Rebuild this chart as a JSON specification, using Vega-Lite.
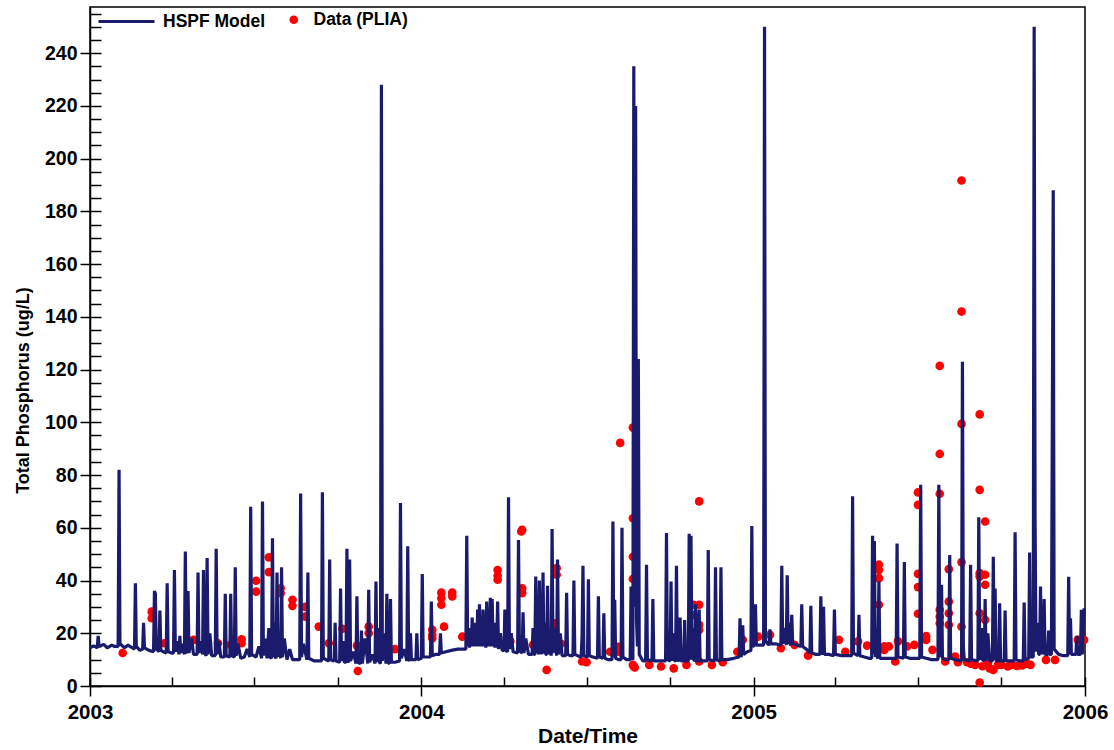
{
"$schema": "https://vega.github.io/schema/vega-lite/v6.json",
"width": 995, "height": 679,
"autosize": {"type": "none"},
"padding": {"left": 90, "top": 7, "right": 29, "bottom": 64},
"background": "white",
"config": {"view": {"stroke": "black", "strokeWidth": 1.5}, "font": "Liberation Sans",
  "axis": {"domainColor": "black", "tickColor": "black", "tickWidth": 1.5, "domainWidth": 1.5, "labelColor": "black", "titleColor": "black", "grid": false}},
"datasets": {
"model": [
{"date":"2003-01-01","tp":14.5},{"date":"2003-01-05","tp":15.2},{"date":"2003-01-09","tp":14.5},{"date":"2003-01-10","tp":19},{"date":"2003-01-11","tp":15},{"date":"2003-01-16","tp":15.8},{"date":"2003-01-20","tp":14.5},{"date":"2003-01-25","tp":15.5},{"date":"2003-01-28","tp":15},
{"date":"2003-02-01","tp":15},{"date":"2003-02-02","tp":82},{"date":"2003-02-03","tp":16},{"date":"2003-02-08","tp":14.5},{"date":"2003-02-12","tp":15.5},{"date":"2003-02-14","tp":15},{"date":"2003-02-19","tp":14},{"date":"2003-02-20","tp":39},{"date":"2003-02-21","tp":15},{"date":"2003-02-25","tp":13.5},{"date":"2003-02-28","tp":14},
{"date":"2003-03-01","tp":24},{"date":"2003-03-02","tp":14.5},{"date":"2003-03-07","tp":13.5},{"date":"2003-03-12","tp":13},{"date":"2003-03-13","tp":36},{"date":"2003-03-14","tp":35},{"date":"2003-03-15","tp":14},{"date":"2003-03-18","tp":13},{"date":"2003-03-19","tp":28.6},{"date":"2003-03-20","tp":13.5},{"date":"2003-03-23","tp":13},{"date":"2003-03-26","tp":12.5},{"date":"2003-03-27","tp":39},{"date":"2003-03-28","tp":13},
{"date":"2003-04-01","tp":12.5},{"date":"2003-04-03","tp":12.5},{"date":"2003-04-04","tp":44},{"date":"2003-04-05","tp":13},{"date":"2003-04-07","tp":17},{"date":"2003-04-09","tp":12},{"date":"2003-04-10","tp":19},{"date":"2003-04-11","tp":12.5},{"date":"2003-04-13","tp":16},{"date":"2003-04-15","tp":12},{"date":"2003-04-16","tp":51},{"date":"2003-04-17","tp":13},{"date":"2003-04-18","tp":12.5},{"date":"2003-04-19","tp":36},{"date":"2003-04-20","tp":12.5},{"date":"2003-04-23","tp":18},{"date":"2003-04-25","tp":12},{"date":"2003-04-29","tp":12},{"date":"2003-04-30","tp":43},
{"date":"2003-05-01","tp":12.5},{"date":"2003-05-03","tp":17},{"date":"2003-05-05","tp":12},{"date":"2003-05-06","tp":44},{"date":"2003-05-07","tp":12.5},{"date":"2003-05-09","tp":11.5},{"date":"2003-05-10","tp":48.5},{"date":"2003-05-11","tp":12},{"date":"2003-05-13","tp":20},{"date":"2003-05-15","tp":11.5},{"date":"2003-05-19","tp":11.5},{"date":"2003-05-20","tp":52},{"date":"2003-05-21","tp":12},{"date":"2003-05-23","tp":17},{"date":"2003-05-25","tp":11},{"date":"2003-05-29","tp":11},{"date":"2003-05-30","tp":35},{"date":"2003-05-31","tp":11.5},
{"date":"2003-06-04","tp":11},{"date":"2003-06-05","tp":35},{"date":"2003-06-06","tp":11.5},{"date":"2003-06-09","tp":11},{"date":"2003-06-10","tp":45},{"date":"2003-06-11","tp":11.5},{"date":"2003-06-13","tp":16},{"date":"2003-06-16","tp":10.5},{"date":"2003-06-20","tp":11},{"date":"2003-06-23","tp":14},{"date":"2003-06-26","tp":11},{"date":"2003-06-27","tp":68},{"date":"2003-06-28","tp":12},
{"date":"2003-07-03","tp":11},{"date":"2003-07-06","tp":15},{"date":"2003-07-09","tp":10.5},{"date":"2003-07-10","tp":70},{"date":"2003-07-11","tp":11.5},{"date":"2003-07-13","tp":18},{"date":"2003-07-15","tp":10.5},{"date":"2003-07-17","tp":22},{"date":"2003-07-18","tp":11},{"date":"2003-07-20","tp":10.5},{"date":"2003-07-21","tp":56},{"date":"2003-07-22","tp":11},{"date":"2003-07-23","tp":24},{"date":"2003-07-24","tp":11},{"date":"2003-07-25","tp":10.5},{"date":"2003-07-26","tp":43},{"date":"2003-07-27","tp":11},{"date":"2003-07-28","tp":20},{"date":"2003-07-30","tp":10.5},{"date":"2003-07-31","tp":45},
{"date":"2003-08-01","tp":11},{"date":"2003-08-03","tp":18},{"date":"2003-08-06","tp":10},{"date":"2003-08-09","tp":14},{"date":"2003-08-12","tp":10},{"date":"2003-08-20","tp":10},{"date":"2003-08-21","tp":73},{"date":"2003-08-22","tp":11},{"date":"2003-08-24","tp":16},{"date":"2003-08-28","tp":10},{"date":"2003-08-29","tp":43},{"date":"2003-08-30","tp":10.5},
{"date":"2003-09-05","tp":9.5},{"date":"2003-09-13","tp":9.5},{"date":"2003-09-14","tp":73.5},{"date":"2003-09-15","tp":10.5},{"date":"2003-09-21","tp":9.5},{"date":"2003-09-22","tp":48},{"date":"2003-09-23","tp":10},{"date":"2003-09-27","tp":9.5},{"date":"2003-09-28","tp":24},{"date":"2003-09-29","tp":9.5},
{"date":"2003-10-03","tp":9},{"date":"2003-10-04","tp":37},{"date":"2003-10-05","tp":9.5},{"date":"2003-10-07","tp":17},{"date":"2003-10-08","tp":9},{"date":"2003-10-10","tp":9},{"date":"2003-10-11","tp":52},{"date":"2003-10-12","tp":9.5},{"date":"2003-10-13","tp":9},{"date":"2003-10-14","tp":48},{"date":"2003-10-15","tp":9.5},{"date":"2003-10-18","tp":13},{"date":"2003-10-21","tp":8.5},{"date":"2003-10-22","tp":34},{"date":"2003-10-23","tp":9},{"date":"2003-10-26","tp":8.5},{"date":"2003-10-27","tp":21},{"date":"2003-10-28","tp":8.5},{"date":"2003-10-31","tp":18},
{"date":"2003-11-03","tp":8.5},{"date":"2003-11-04","tp":36.5},{"date":"2003-11-05","tp":9},{"date":"2003-11-08","tp":12},{"date":"2003-11-11","tp":8.5},{"date":"2003-11-12","tp":39.6},{"date":"2003-11-13","tp":9},{"date":"2003-11-15","tp":22},{"date":"2003-11-16","tp":9},{"date":"2003-11-17","tp":8.5},{"date":"2003-11-18","tp":228},{"date":"2003-11-19","tp":9.5},{"date":"2003-11-21","tp":20},{"date":"2003-11-23","tp":8.5},{"date":"2003-11-24","tp":35},{"date":"2003-11-25","tp":9},{"date":"2003-11-27","tp":8.5},{"date":"2003-11-28","tp":33},{"date":"2003-11-29","tp":9},
{"date":"2003-12-03","tp":9},{"date":"2003-12-08","tp":9.5},{"date":"2003-12-09","tp":69.4},{"date":"2003-12-10","tp":10.5},{"date":"2003-12-13","tp":14},{"date":"2003-12-16","tp":9.5},{"date":"2003-12-17","tp":53},{"date":"2003-12-18","tp":10},{"date":"2003-12-19","tp":9.5},{"date":"2003-12-20","tp":20},{"date":"2003-12-21","tp":10},{"date":"2003-12-26","tp":10},{"date":"2003-12-27","tp":20},{"date":"2003-12-28","tp":10},
{"date":"2004-01-01","tp":10.5},{"date":"2004-01-02","tp":42.5},{"date":"2004-01-03","tp":11},{"date":"2004-01-07","tp":11},{"date":"2004-01-11","tp":11},{"date":"2004-01-12","tp":32},{"date":"2004-01-13","tp":11.5},{"date":"2004-01-17","tp":12},{"date":"2004-01-21","tp":12},{"date":"2004-01-22","tp":20},{"date":"2004-01-23","tp":12.5},{"date":"2004-01-28","tp":13},
{"date":"2004-02-03","tp":13.5},{"date":"2004-02-10","tp":14},{"date":"2004-02-15","tp":14},{"date":"2004-02-19","tp":14},{"date":"2004-02-20","tp":57},{"date":"2004-02-21","tp":15},{"date":"2004-02-22","tp":21},{"date":"2004-02-23","tp":14.5},{"date":"2004-02-24","tp":22},{"date":"2004-02-25","tp":15},{"date":"2004-02-26","tp":26},{"date":"2004-02-27","tp":15},{"date":"2004-02-28","tp":24},{"date":"2004-02-29","tp":15},
{"date":"2004-03-01","tp":22},{"date":"2004-03-02","tp":15},{"date":"2004-03-03","tp":29},{"date":"2004-03-04","tp":15},{"date":"2004-03-05","tp":31},{"date":"2004-03-06","tp":15},{"date":"2004-03-07","tp":25},{"date":"2004-03-08","tp":15},{"date":"2004-03-09","tp":29},{"date":"2004-03-10","tp":15},{"date":"2004-03-11","tp":23},{"date":"2004-03-12","tp":14.5},{"date":"2004-03-13","tp":32},{"date":"2004-03-14","tp":15},{"date":"2004-03-15","tp":27},{"date":"2004-03-16","tp":15},{"date":"2004-03-17","tp":33.5},{"date":"2004-03-18","tp":15},{"date":"2004-03-19","tp":33},{"date":"2004-03-20","tp":15},{"date":"2004-03-21","tp":22},{"date":"2004-03-22","tp":14.5},{"date":"2004-03-23","tp":24},{"date":"2004-03-24","tp":14.5},{"date":"2004-03-25","tp":32},{"date":"2004-03-26","tp":14},{"date":"2004-03-28","tp":20},{"date":"2004-03-30","tp":13.5},
{"date":"2004-04-01","tp":13.5},{"date":"2004-04-02","tp":29},{"date":"2004-04-03","tp":13.5},{"date":"2004-04-05","tp":13},{"date":"2004-04-06","tp":71.6},{"date":"2004-04-07","tp":14},{"date":"2004-04-09","tp":20},{"date":"2004-04-11","tp":13},{"date":"2004-04-16","tp":12.5},{"date":"2004-04-17","tp":55.4},{"date":"2004-04-18","tp":13.5},{"date":"2004-04-21","tp":12.5},{"date":"2004-04-22","tp":28},{"date":"2004-04-23","tp":12.5},{"date":"2004-04-25","tp":18},{"date":"2004-04-28","tp":12},
{"date":"2004-05-02","tp":12},{"date":"2004-05-03","tp":22},{"date":"2004-05-04","tp":12},{"date":"2004-05-05","tp":12},{"date":"2004-05-06","tp":41.5},{"date":"2004-05-07","tp":12.5},{"date":"2004-05-08","tp":24},{"date":"2004-05-09","tp":12},{"date":"2004-05-10","tp":40},{"date":"2004-05-11","tp":12},{"date":"2004-05-12","tp":22},{"date":"2004-05-13","tp":12},{"date":"2004-05-14","tp":43},{"date":"2004-05-15","tp":12.5},{"date":"2004-05-16","tp":24},{"date":"2004-05-17","tp":12},{"date":"2004-05-18","tp":12},{"date":"2004-05-19","tp":38},{"date":"2004-05-20","tp":12},{"date":"2004-05-21","tp":21},{"date":"2004-05-23","tp":11.5},{"date":"2004-05-24","tp":59.5},{"date":"2004-05-25","tp":12.5},{"date":"2004-05-27","tp":22},{"date":"2004-05-29","tp":11.5},{"date":"2004-05-30","tp":48},{"date":"2004-05-31","tp":12},
{"date":"2004-06-02","tp":20},{"date":"2004-06-04","tp":11.5},{"date":"2004-06-08","tp":11.5},{"date":"2004-06-09","tp":35.4},{"date":"2004-06-10","tp":12},{"date":"2004-06-13","tp":11.5},{"date":"2004-06-16","tp":11.5},{"date":"2004-06-17","tp":40},{"date":"2004-06-18","tp":12},{"date":"2004-06-21","tp":11.5},{"date":"2004-06-25","tp":11},{"date":"2004-06-26","tp":19},{"date":"2004-06-27","tp":45.6},{"date":"2004-06-28","tp":11.5},
{"date":"2004-07-02","tp":11},{"date":"2004-07-03","tp":40.5},{"date":"2004-07-04","tp":11.5},{"date":"2004-07-08","tp":11},{"date":"2004-07-13","tp":10.5},{"date":"2004-07-14","tp":34},{"date":"2004-07-15","tp":11},{"date":"2004-07-19","tp":10.5},{"date":"2004-07-20","tp":27.6},{"date":"2004-07-21","tp":10.5},{"date":"2004-07-25","tp":10},{"date":"2004-07-29","tp":10},{"date":"2004-07-30","tp":62.4},{"date":"2004-07-31","tp":11},
{"date":"2004-08-01","tp":32.7},{"date":"2004-08-02","tp":10.5},{"date":"2004-08-05","tp":10},{"date":"2004-08-08","tp":10},{"date":"2004-08-09","tp":60},{"date":"2004-08-10","tp":11},{"date":"2004-08-14","tp":10},{"date":"2004-08-18","tp":10},{"date":"2004-08-19","tp":37.7},{"date":"2004-08-20","tp":10.5},{"date":"2004-08-21","tp":10},{"date":"2004-08-22","tp":235},{"date":"2004-08-23","tp":30},{"date":"2004-08-24","tp":220},{"date":"2004-08-25","tp":25},{"date":"2004-08-26","tp":15},{"date":"2004-08-27","tp":124},{"date":"2004-08-28","tp":12},
{"date":"2004-09-01","tp":9.5},{"date":"2004-09-04","tp":9.5},{"date":"2004-09-05","tp":46},{"date":"2004-09-06","tp":10},{"date":"2004-09-11","tp":9.5},{"date":"2004-09-12","tp":33},{"date":"2004-09-13","tp":9.5},{"date":"2004-09-18","tp":9.5},{"date":"2004-09-26","tp":9.5},{"date":"2004-09-27","tp":58},{"date":"2004-09-28","tp":10},
{"date":"2004-10-01","tp":9.5},{"date":"2004-10-02","tp":39.6},{"date":"2004-10-03","tp":9.5},{"date":"2004-10-05","tp":20},{"date":"2004-10-06","tp":9.5},{"date":"2004-10-07","tp":9.5},{"date":"2004-10-08","tp":45.6},{"date":"2004-10-09","tp":10},{"date":"2004-10-11","tp":9.5},{"date":"2004-10-12","tp":26},{"date":"2004-10-13","tp":9.5},{"date":"2004-10-16","tp":9.5},{"date":"2004-10-17","tp":25},{"date":"2004-10-18","tp":9.5},{"date":"2004-10-21","tp":9.5},{"date":"2004-10-22","tp":57.7},{"date":"2004-10-23","tp":10},{"date":"2004-10-24","tp":57},{"date":"2004-10-25","tp":10},{"date":"2004-10-26","tp":22},{"date":"2004-10-27","tp":10},{"date":"2004-10-28","tp":9.5},{"date":"2004-10-29","tp":31},{"date":"2004-10-30","tp":9.5},
{"date":"2004-11-01","tp":9.5},{"date":"2004-11-02","tp":29},{"date":"2004-11-03","tp":9.5},{"date":"2004-11-07","tp":9.5},{"date":"2004-11-11","tp":9.5},{"date":"2004-11-12","tp":51.6},{"date":"2004-11-13","tp":10},{"date":"2004-11-19","tp":9.5},{"date":"2004-11-20","tp":45},{"date":"2004-11-21","tp":10},{"date":"2004-11-25","tp":9.5},{"date":"2004-11-26","tp":45},{"date":"2004-11-27","tp":10},
{"date":"2004-12-03","tp":10},{"date":"2004-12-10","tp":10.5},{"date":"2004-12-16","tp":11},{"date":"2004-12-17","tp":25.7},{"date":"2004-12-18","tp":11},{"date":"2004-12-19","tp":12},{"date":"2004-12-20","tp":23},{"date":"2004-12-21","tp":12},{"date":"2004-12-25","tp":13},{"date":"2004-12-29","tp":13.5},{"date":"2004-12-30","tp":60.7},{"date":"2004-12-31","tp":15},
{"date":"2005-01-02","tp":15.5},{"date":"2005-01-03","tp":31},{"date":"2005-01-04","tp":15.5},{"date":"2005-01-08","tp":15.5},{"date":"2005-01-12","tp":15.5},{"date":"2005-01-13","tp":250},{"date":"2005-01-14","tp":17},{"date":"2005-01-18","tp":15.5},{"date":"2005-01-19","tp":21.5},{"date":"2005-01-20","tp":16},{"date":"2005-01-25","tp":16},{"date":"2005-01-31","tp":15.5},
{"date":"2005-02-01","tp":45.6},{"date":"2005-02-02","tp":16},{"date":"2005-02-04","tp":22},{"date":"2005-02-06","tp":15.5},{"date":"2005-02-07","tp":42},{"date":"2005-02-08","tp":16},{"date":"2005-02-09","tp":24},{"date":"2005-02-10","tp":16},{"date":"2005-02-11","tp":15.5},{"date":"2005-02-12","tp":27},{"date":"2005-02-13","tp":16},{"date":"2005-02-18","tp":15.5},{"date":"2005-02-22","tp":15},{"date":"2005-02-23","tp":31},{"date":"2005-02-24","tp":15},{"date":"2005-02-28","tp":14},
{"date":"2005-03-04","tp":12.5},{"date":"2005-03-05","tp":30.4},{"date":"2005-03-06","tp":12.5},{"date":"2005-03-10","tp":12},{"date":"2005-03-15","tp":12},{"date":"2005-03-16","tp":34},{"date":"2005-03-17","tp":12.5},{"date":"2005-03-18","tp":12},{"date":"2005-03-19","tp":30},{"date":"2005-03-20","tp":12},{"date":"2005-03-25","tp":12},{"date":"2005-03-30","tp":11.5},{"date":"2005-03-31","tp":29},
{"date":"2005-04-01","tp":12},{"date":"2005-04-08","tp":11.5},{"date":"2005-04-14","tp":11.5},{"date":"2005-04-19","tp":11.5},{"date":"2005-04-20","tp":72},{"date":"2005-04-21","tp":12.5},{"date":"2005-04-26","tp":11.5},{"date":"2005-04-27","tp":27},{"date":"2005-04-28","tp":11.5},
{"date":"2005-05-03","tp":11},{"date":"2005-05-08","tp":10.5},{"date":"2005-05-11","tp":10.5},{"date":"2005-05-12","tp":57},{"date":"2005-05-13","tp":12},{"date":"2005-05-14","tp":55},{"date":"2005-05-15","tp":11},{"date":"2005-05-16","tp":22},{"date":"2005-05-17","tp":11},{"date":"2005-05-18","tp":10.5},{"date":"2005-05-19","tp":39.6},{"date":"2005-05-20","tp":10.5},{"date":"2005-05-26","tp":10.5},
{"date":"2005-06-01","tp":10.5},{"date":"2005-06-07","tp":10.5},{"date":"2005-06-08","tp":54},{"date":"2005-06-09","tp":11},{"date":"2005-06-15","tp":10.5},{"date":"2005-06-16","tp":47},{"date":"2005-06-17","tp":11},{"date":"2005-06-22","tp":10.5},{"date":"2005-06-28","tp":10.5},
{"date":"2005-07-03","tp":10.5},{"date":"2005-07-04","tp":76.3},{"date":"2005-07-05","tp":11},{"date":"2005-07-10","tp":10.5},{"date":"2005-07-16","tp":10},{"date":"2005-07-23","tp":10},{"date":"2005-07-24","tp":76.3},{"date":"2005-07-25","tp":12},{"date":"2005-07-26","tp":11},{"date":"2005-07-27","tp":38.4},{"date":"2005-07-28","tp":10.5},{"date":"2005-07-31","tp":10},
{"date":"2005-08-04","tp":10},{"date":"2005-08-05","tp":49.7},{"date":"2005-08-06","tp":10.5},{"date":"2005-08-11","tp":10},{"date":"2005-08-18","tp":9.5},{"date":"2005-08-19","tp":123},{"date":"2005-08-20","tp":15},{"date":"2005-08-21","tp":10},{"date":"2005-08-27","tp":9.5},{"date":"2005-08-28","tp":46},{"date":"2005-08-29","tp":10},
{"date":"2005-09-05","tp":9.5},{"date":"2005-09-06","tp":64},{"date":"2005-09-07","tp":12},{"date":"2005-09-08","tp":10},{"date":"2005-09-09","tp":22},{"date":"2005-09-10","tp":10},{"date":"2005-09-12","tp":9.5},{"date":"2005-09-13","tp":33},{"date":"2005-09-14","tp":9.5},{"date":"2005-09-16","tp":20},{"date":"2005-09-18","tp":9.5},{"date":"2005-09-21","tp":9.5},{"date":"2005-09-22","tp":49},{"date":"2005-09-23","tp":10},{"date":"2005-09-24","tp":37},{"date":"2005-09-25","tp":9.5},{"date":"2005-09-28","tp":9.5},{"date":"2005-09-29","tp":31.4},{"date":"2005-09-30","tp":9.5},
{"date":"2005-10-04","tp":9.5},{"date":"2005-10-05","tp":28.6},{"date":"2005-10-06","tp":9.5},{"date":"2005-10-10","tp":9.5},{"date":"2005-10-15","tp":9.5},{"date":"2005-10-16","tp":58.3},{"date":"2005-10-17","tp":10},{"date":"2005-10-21","tp":9.5},{"date":"2005-10-25","tp":9.5},{"date":"2005-10-26","tp":31.7},{"date":"2005-10-27","tp":10},{"date":"2005-10-31","tp":10.5},
{"date":"2005-11-01","tp":50.6},{"date":"2005-11-02","tp":11},{"date":"2005-11-05","tp":11},{"date":"2005-11-06","tp":250},{"date":"2005-11-07","tp":64},{"date":"2005-11-08","tp":13},{"date":"2005-11-10","tp":24},{"date":"2005-11-11","tp":12},{"date":"2005-11-12","tp":12},{"date":"2005-11-13","tp":37.7},{"date":"2005-11-14","tp":12},{"date":"2005-11-15","tp":26},{"date":"2005-11-16","tp":12},{"date":"2005-11-17","tp":33},{"date":"2005-11-18","tp":12},{"date":"2005-11-21","tp":12},{"date":"2005-11-22","tp":21},{"date":"2005-11-23","tp":12},{"date":"2005-11-25","tp":12},{"date":"2005-11-26","tp":100},{"date":"2005-11-27","tp":188},{"date":"2005-11-28","tp":14},
{"date":"2005-12-03","tp":12},{"date":"2005-12-08","tp":11.5},{"date":"2005-12-13","tp":11.5},{"date":"2005-12-14","tp":41.4},{"date":"2005-12-15","tp":12},{"date":"2005-12-16","tp":25.7},{"date":"2005-12-17","tp":12},{"date":"2005-12-22","tp":12},{"date":"2005-12-23","tp":19},{"date":"2005-12-24","tp":12},{"date":"2005-12-27","tp":12},{"date":"2005-12-28","tp":28.9},{"date":"2005-12-29","tp":12},{"date":"2005-12-31","tp":29.5}
],
"obs": [
{"date":"2003-02-06","tp":12.5},{"date":"2003-03-10","tp":28.2},{"date":"2003-03-10","tp":25.7},{"date":"2003-03-24","tp":16.2},{"date":"2003-04-25","tp":17.5},{"date":"2003-05-22","tp":16.2},{"date":"2003-06-05","tp":15.6},{"date":"2003-06-17","tp":17.7},{"date":"2003-06-17","tp":16.2},
{"date":"2003-07-03","tp":39.9},{"date":"2003-07-03","tp":35.8},{"date":"2003-07-17","tp":48.8},{"date":"2003-07-17","tp":43.2},{"date":"2003-07-30","tp":37},{"date":"2003-07-30","tp":35.2},{"date":"2003-08-12","tp":32.7},{"date":"2003-08-12","tp":30.4},{"date":"2003-08-26","tp":30},{"date":"2003-08-26","tp":26.3},
{"date":"2003-09-10","tp":22.5},{"date":"2003-09-21","tp":16.2},{"date":"2003-10-06","tp":21.7},{"date":"2003-10-22","tp":15.3},{"date":"2003-10-23","tp":5.7},{"date":"2003-11-04","tp":22.5},{"date":"2003-11-04","tp":20},{"date":"2003-11-20","tp":18},{"date":"2003-12-03","tp":14},
{"date":"2004-01-13","tp":21.3},{"date":"2004-01-13","tp":19.4},{"date":"2004-01-13","tp":18.1},{"date":"2004-01-23","tp":35.4},{"date":"2004-01-23","tp":33.3},{"date":"2004-01-23","tp":30.8},{"date":"2004-01-26","tp":22.5},{"date":"2004-02-04","tp":35.4},{"date":"2004-02-04","tp":34},{"date":"2004-02-15","tp":18.7},
{"date":"2004-03-25","tp":44},{"date":"2004-03-25","tp":41.8},{"date":"2004-03-25","tp":40.3},{"date":"2004-04-08","tp":16.9},{"date":"2004-04-20","tp":58.6},{"date":"2004-04-21","tp":59.2},{"date":"2004-04-21","tp":37},{"date":"2004-04-21","tp":35.2},{"date":"2004-05-03","tp":15.6},{"date":"2004-05-18","tp":6.1},{"date":"2004-05-27","tp":23.8},{"date":"2004-05-27","tp":20.7},{"date":"2004-05-29","tp":44.7},{"date":"2004-05-29","tp":42.2},{"date":"2004-06-03","tp":16},{"date":"2004-06-26","tp":9.3},
{"date":"2004-07-01","tp":9},{"date":"2004-07-27","tp":13},{"date":"2004-08-05","tp":14.9},{"date":"2004-08-05","tp":13},{"date":"2004-08-07","tp":92.2},{"date":"2004-08-21","tp":98},{"date":"2004-08-21","tp":63.6},{"date":"2004-08-21","tp":49},{"date":"2004-08-21","tp":40.6},{"date":"2004-08-21","tp":8},{"date":"2004-08-22","tp":7.4},{"date":"2004-08-23","tp":7},
{"date":"2004-09-08","tp":8},{"date":"2004-09-21","tp":7.4},{"date":"2004-10-05","tp":6.7},{"date":"2004-10-19","tp":8},{"date":"2004-10-27","tp":30.8},{"date":"2004-10-27","tp":27},{"date":"2004-11-02","tp":70},{"date":"2004-11-02","tp":30.8},{"date":"2004-11-02","tp":23.2},{"date":"2004-11-02","tp":21.3},{"date":"2004-11-02","tp":9.3},{"date":"2004-11-16","tp":8},{"date":"2004-11-28","tp":9},{"date":"2004-12-14","tp":13},{"date":"2004-12-20","tp":17.5},
{"date":"2005-01-06","tp":18.7},{"date":"2005-01-19","tp":19.4},{"date":"2005-01-31","tp":14.3},{"date":"2005-02-15","tp":15.6},{"date":"2005-03-02","tp":11.5},{"date":"2005-04-05","tp":17.5},{"date":"2005-04-12","tp":13},{"date":"2005-04-26","tp":16.9},{"date":"2005-05-06","tp":15.3},
{"date":"2005-05-19","tp":46},{"date":"2005-05-19","tp":44},{"date":"2005-05-19","tp":40.9},{"date":"2005-05-19","tp":30.8},{"date":"2005-05-25","tp":15},{"date":"2005-05-25","tp":13.7},{"date":"2005-05-30","tp":15},{"date":"2005-06-06","tp":9.3},{"date":"2005-06-09","tp":16.9},{"date":"2005-06-19","tp":15},{"date":"2005-06-27","tp":15.6},
{"date":"2005-07-01","tp":73.4},{"date":"2005-07-01","tp":68.7},{"date":"2005-07-01","tp":42.5},{"date":"2005-07-01","tp":37.5},{"date":"2005-07-01","tp":27.4},{"date":"2005-07-10","tp":18.9},{"date":"2005-07-10","tp":17.5},{"date":"2005-07-17","tp":13.7},
{"date":"2005-07-25","tp":121.4},{"date":"2005-07-25","tp":88},{"date":"2005-07-25","tp":72.9},{"date":"2005-07-25","tp":28.9},{"date":"2005-07-25","tp":26.3},{"date":"2005-07-25","tp":23.8},{"date":"2005-07-31","tp":9.3},
{"date":"2005-08-04","tp":44.3},{"date":"2005-08-04","tp":32},{"date":"2005-08-04","tp":27.6},{"date":"2005-08-04","tp":23.2},{"date":"2005-08-11","tp":11.2},{"date":"2005-08-14","tp":9},
{"date":"2005-08-18","tp":191.7},{"date":"2005-08-18","tp":142},{"date":"2005-08-18","tp":99.4},{"date":"2005-08-18","tp":47},{"date":"2005-08-18","tp":22.5},{"date":"2005-08-24","tp":9},{"date":"2005-08-28","tp":8.5},{"date":"2005-09-02","tp":8},
{"date":"2005-09-07","tp":103},{"date":"2005-09-07","tp":74.4},{"date":"2005-09-07","tp":42.8},{"date":"2005-09-07","tp":41.5},{"date":"2005-09-07","tp":27.6},{"date":"2005-09-07","tp":1.3},{"date":"2005-09-10","tp":7.5},
{"date":"2005-09-13","tp":62.4},{"date":"2005-09-13","tp":42.2},{"date":"2005-09-13","tp":38.4},{"date":"2005-09-13","tp":25.1},{"date":"2005-09-16","tp":8.5},{"date":"2005-09-18","tp":6.7},{"date":"2005-09-22","tp":6.1},{"date":"2005-09-27","tp":8},{"date":"2005-10-01","tp":8},
{"date":"2005-10-08","tp":7.4},{"date":"2005-10-12","tp":8},{"date":"2005-10-18","tp":7.6},{"date":"2005-10-24","tp":7.8},{"date":"2005-10-29","tp":8.5},{"date":"2005-11-02","tp":8},{"date":"2005-11-19","tp":9.9},{"date":"2005-11-29","tp":9.9},{"date":"2005-12-24","tp":17.5},{"date":"2005-12-31","tp":17.5}
]
},
"layer": [
{
 "data": {"name": "obs"},
 "mark": {"type": "point", "filled": true, "size": 75, "opacity": 1, "strokeWidth": 0},
 "encoding": {
  "x": {"field": "date", "type": "temporal",
        "scale": {"type": "utc", "nice": false, "domain": [{"year": 2003, "month": 1, "date": 1, "utc": true}, {"year": 2006, "month": 1, "date": 1, "utc": true}]},
        "axis": {"orient": "top", "offset": -679, "labels": false, "domain": false, "title": null, "tickSize": 9,
                 "values": [{"year":2003,"month":1,"date":1,"utc":true},{"year":2003,"month":4,"date":1,"utc":true},{"year":2003,"month":7,"date":1,"utc":true},{"year":2003,"month":10,"date":1,"utc":true},{"year":2004,"month":1,"date":1,"utc":true},{"year":2004,"month":4,"date":1,"utc":true},{"year":2004,"month":7,"date":1,"utc":true},{"year":2004,"month":10,"date":1,"utc":true},{"year":2005,"month":1,"date":1,"utc":true},{"year":2005,"month":4,"date":1,"utc":true},{"year":2005,"month":7,"date":1,"utc":true},{"year":2005,"month":10,"date":1,"utc":true},{"year":2006,"month":1,"date":1,"utc":true}]}},
  "y": {"field": "tp", "type": "quantitative", "scale": {"domain": [0, 257.5], "nice": false},
        "axis": {"orient": "left", "offset": 0, "labels": false, "domain": false, "title": null, "tickSize": -11,
                 "values": [0,5,10,15,20,25,30,35,40,45,50,55,60,65,70,75,80,85,90,95,100,105,110,115,120,125,130,135,140,145,150,155,160,165,170,175,180,185,190,195,200,205,210,215,220,225,230,235,240,245,250,255]}},
  "fill": {"datum": "Data (PLIA)", "type": "nominal", "scale": {"range": ["#ff0000"]},
           "legend": {"title": null, "orient": "none", "legendX": 195, "legendY": 4, "symbolType": "circle", "symbolSize": 75, "labelOffset": 11, "padding": 0,
                      "labelFont": "Liberation Sans", "labelFontWeight": "bold", "labelFontSize": 17.5, "labelColor": "black"}}
 }
},
{
 "data": {"name": "model"},
 "mark": {"type": "line", "strokeWidth": 3.2, "strokeJoin": "bevel"},
 "encoding": {
  "x": {"field": "date", "type": "temporal",
        "axis": {"orient": "bottom", "format": "%Y", "tickSize": 10, "labelFontSize": 20.5, "labelFontWeight": "bold", "labelPadding": 6, "labelFlush": false, "labelOverlap": false, "labelBound": false,
                 "title": "Date/Time", "titleFontSize": 21, "titleFontWeight": "bold", "titlePadding": 3,
                 "values": [{"year":2003,"month":1,"date":1,"utc":true},{"year":2004,"month":1,"date":1,"utc":true},{"year":2005,"month":1,"date":1,"utc":true},{"year":2006,"month":1,"date":1,"utc":true}]}},
  "y": {"field": "tp", "type": "quantitative",
        "axis": {"orient": "left", "tickSize": 10, "labelFontSize": 19.5, "labelFontWeight": "bold", "labelPadding": 3,
                 "title": "Total Phosphorus (ug/L)", "titleFontSize": 18, "titleFontWeight": "bold", "titlePadding": 12, "titleY": 383,
                 "values": [0,20,40,60,80,100,120,140,160,180,200,220,240]}},
  "stroke": {"datum": "HSPF Model", "type": "nominal", "scale": {"range": ["#1b1b6e"]},
             "legend": {"title": null, "orient": "none", "legendX": 7, "legendY": -15, "symbolType": "stroke", "symbolSize": 3136, "symbolStrokeWidth": 3, "labelOffset": 7, "padding": 0,
                        "labelFont": "Liberation Sans", "labelFontWeight": "bold", "labelFontSize": 17.5, "labelColor": "black"}}
 }
}
],
"resolve": {"axis": {"x": "independent", "y": "independent"}}
}
